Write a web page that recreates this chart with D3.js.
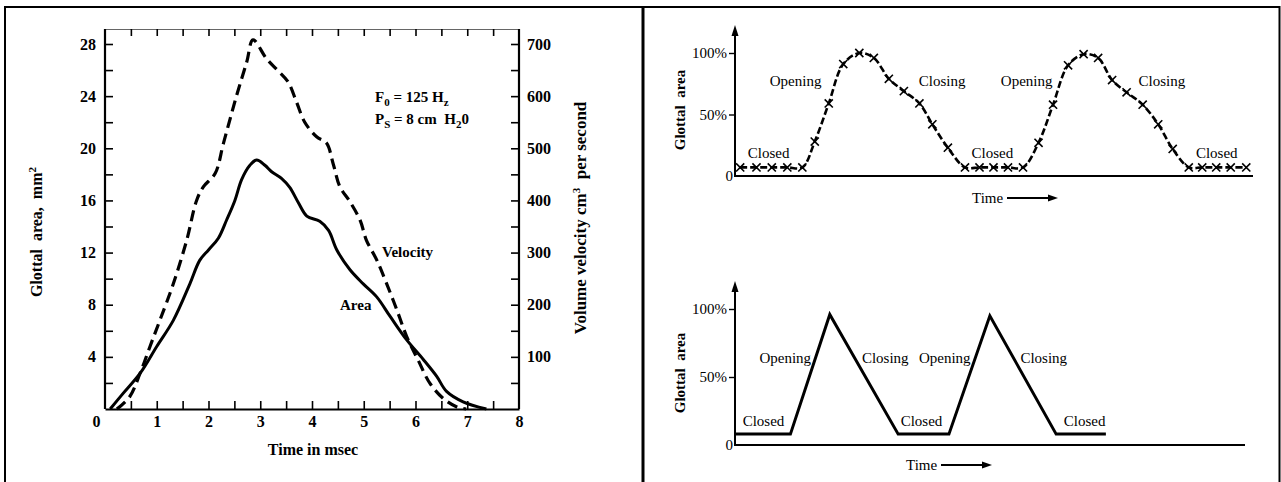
<!DOCTYPE html>
<html>
<head>
<meta charset="utf-8">
<script src="https://cdn.jsdelivr.net/npm/d3@7"></script>
<style>
  body { margin: 0; background: #fff; }
  svg { display: block; }
  text { font-family: "Liberation Serif", "DejaVu Serif", serif; fill: #000; }
</style>
</head>
<body>
<svg id="chart" width="1281" height="482"></svg>
<script>
// ---- Left panel: glottal area (mm²) and volume velocity (cm³/s) over one cycle ----
const areaTime = [0.10, 0.35, 0.68, 1.00, 1.32, 1.64, 1.83, 2.00, 2.19, 2.35, 2.51, 2.64, 2.80, 2.93,
  3.09, 3.22, 3.41, 3.57, 3.74, 3.90, 4.15, 4.32, 4.48, 4.73, 4.99, 5.25, 5.51, 5.83, 6.15, 6.41, 6.60, 6.92, 7.37];
const areaValues = [0, 1.2, 2.75, 4.8, 6.8, 9.6, 11.4, 12.2, 13.1, 14.5, 16.0, 17.6, 18.7, 19.1,
  18.7, 18.2, 17.7, 17.0, 15.8, 14.8, 14.4, 13.7, 12.2, 10.7, 9.6, 8.6, 7.1, 5.3, 3.8, 2.5, 1.35, 0.55, 0];

const velocityTime = [0.23, 0.48, 0.68, 0.87, 1.06, 1.32, 1.58, 1.77, 1.90, 2.13, 2.29, 2.54, 2.74, 2.86,
  3.12, 3.35, 3.54, 3.70, 3.86, 4.09, 4.28, 4.41, 4.54, 4.73, 4.93, 5.05, 5.25, 5.44, 5.64, 5.83, 6.05, 6.28, 6.54, 6.80, 6.98];
const velocityValues = [0, 24, 69, 120, 170, 240, 324, 400, 426, 452, 510, 600, 666, 708,
  672, 648, 627, 589, 550, 522, 510, 470, 426, 398, 362, 324, 286, 241, 190, 139, 94, 49, 20, 4, 0];

const timeTicks = d3.range(0, 8.01, 0.5);
const timeLabels = [0, 1, 2, 3, 4, 5, 6, 7, 8];
const areaTicks = d3.range(2, 28.01, 2);
const areaLabels = [4, 8, 12, 16, 20, 24, 28];
const velocityTicks = d3.range(50, 700.1, 50);
const velocityLabels = [100, 200, 300, 400, 500, 600, 700];

// ---- Right panels: schematic glottal cycles ----
const phaseTime = [0.10, 0.415, 0.71, 1.01, 1.30, 1.54, 1.81, 2.09, 2.40, 2.68, 2.97, 3.26, 3.56, 3.81, 4.11,
  4.44, 4.72, 4.99, 5.27, 5.56, 5.86, 6.14, 6.43, 6.73, 7.01, 7.28, 7.56, 7.87, 8.17, 8.45,
  8.76, 9.02, 9.29, 9.57, 9.87];
const phasePercent = [7, 7, 7, 7, 7, 28, 59, 91, 100, 96, 79, 69, 59, 42, 23,
  7, 7, 7, 7, 7, 27, 58, 90, 99, 96, 78, 68, 58, 42, 22,
  7, 7, 7, 7, 7];

const trapTime = [0, 1.07, 1.83, 3.15, 4.13, 4.92, 6.20, 7.16];
const trapPercent = [8, 8, 96, 8, 8, 95, 8, 8];

const percentTicks = [0, 50, 100];
const percentLabels = ["0", "50%", "100%"];

const topLabels = [
  { text: "Closed", t: 0.65, p: 19 }, { text: "Opening", t: 1.17, p: 77 },
  { text: "Closing", t: 4.0, p: 77 }, { text: "Opening", t: 5.63, p: 77 },
  { text: "Closing", t: 8.24, p: 77 }, { text: "Closed", t: 4.97, p: 19 },
  { text: "Closed", t: 9.3, p: 19 }
];
const bottomLabels = [
  { text: "Closed", t: 0.55, p: 18 }, { text: "Opening", t: 0.97, p: 64 },
  { text: "Closing", t: 2.9, p: 64 }, { text: "Opening", t: 4.05, p: 64 },
  { text: "Closing", t: 5.96, p: 64 }, { text: "Closed", t: 3.6, p: 18 },
  { text: "Closed", t: 6.75, p: 18 }
];

const svg = d3.select("#chart");

// Panel frame and divider
svg.append("rect").attr("x", 5).attr("y", 7).attr("width", 1274.5).attr("height", 478)
  .attr("fill", "none").attr("stroke", "#000").attr("stroke-width", 2);
svg.append("line").attr("x1", 643).attr("x2", 643).attr("y1", 7).attr("y2", 482)
  .attr("stroke", "#000").attr("stroke-width", 3);

// ================= Left panel =================
const x = d3.scaleLinear([0, 8], [105, 519]);
const yArea = d3.scaleLinear([0, 28], [409, 44]);
const yVel = d3.scaleLinear([0, 700], [409, 44]);
const L = svg.append("g");

function styleAxis(g, width) {
  g.select(".domain").attr("stroke", "#000").attr("stroke-width", width);
  g.selectAll(".tick line").attr("stroke", "#000").attr("stroke-width", 1.6);
  g.selectAll(".tick text").attr("font-family", "Liberation Serif, serif")
    .attr("font-size", 16).attr("font-weight", "bold").attr("fill", "#000");
}

// top edge (ticks only)
L.append("g").attr("transform", `translate(0,${yArea(28) - 15})`)
  .call(d3.axisTop(x).tickValues(timeTicks.slice(1, -1)).tickSizeInner(-7).tickSizeOuter(0).tickFormat(""))
  .call(g => styleAxis(g, 1.2))
  .call(g => g.select(".domain").attr("stroke", "#666"));

// bottom axis
const bottom = L.append("g").attr("transform", `translate(0,${yArea(0)})`)
  .call(d3.axisBottom(x).tickValues(timeTicks).tickSizeInner(-8).tickSizeOuter(0).tickPadding(7)
    .tickFormat(d => timeLabels.includes(d) ? d : ""))
  .call(g => styleAxis(g, 2.2));
bottom.selectAll(".tick").filter(d => d === 0).select("text").attr("dx", -9);
bottom.selectAll(".tick").filter(d => d === 0 || d === 8).select("line").remove();

// left axis
L.append("g").attr("transform", `translate(${x(0)},0)`)
  .call(d3.axisLeft(yArea).tickValues(areaTicks).tickSizeInner(-8).tickSizeOuter(0).tickPadding(9)
    .tickFormat(d => areaLabels.includes(d) ? d : ""))
  .call(g => styleAxis(g, 2.2))
  .call(g => g.select(".domain").attr("d", `M0,${yArea(0)}V${yArea(28) - 15}`));

// right axis
L.append("g").attr("transform", `translate(${x(8)},0)`)
  .call(d3.axisRight(yVel).tickValues(velocityTicks).tickSizeInner(-8).tickSizeOuter(0).tickPadding(8)
    .tickFormat(d => velocityLabels.includes(d) ? d : ""))
  .call(g => styleAxis(g, 2.2))
  .call(g => g.select(".domain").attr("d", `M0,${yArea(0)}V${yArea(28) - 15}`));

// curves
const areaLine = d3.line().x(d => x(d[0])).y(d => yArea(d[1])).curve(d3.curveCatmullRom.alpha(0.5));
const velLine = d3.line().x(d => x(d[0])).y(d => yVel(d[1])).curve(d3.curveCatmullRom.alpha(0.5));

L.append("path").datum(d3.zip(areaTime, areaValues)).attr("d", areaLine)
  .attr("fill", "none").attr("stroke", "#000").attr("stroke-width", 3);
L.append("path").datum(d3.zip(velocityTime, velocityValues)).attr("d", velLine)
  .attr("fill", "none").attr("stroke", "#000").attr("stroke-width", 3.2)
  .attr("stroke-dasharray", "11,6");

// curve labels
L.append("text").attr("x", 382).attr("y", 257).attr("font-size", 15).attr("font-weight", "bold").text("Velocity");
L.append("text").attr("x", 340).attr("y", 310).attr("font-size", 15).attr("font-weight", "bold").text("Area");

// parameters
const f0 = L.append("text").attr("x", 375).attr("y", 102).attr("font-size", 15).attr("font-weight", "bold");
f0.append("tspan").text("F");
f0.append("tspan").attr("font-size", 11).attr("dy", 4).text("0");
f0.append("tspan").attr("dy", -4).text(" = 125 H");
f0.append("tspan").attr("font-size", 11).attr("dy", 4).text("z");
const ps = L.append("text").attr("x", 375).attr("y", 124).attr("font-size", 15).attr("font-weight", "bold")
  .style("white-space", "pre");
ps.append("tspan").text("P");
ps.append("tspan").attr("font-size", 11).attr("dy", 4).text("S");
ps.append("tspan").attr("dy", -4).text(" = 8 cm  H");
ps.append("tspan").attr("font-size", 11).attr("dy", 4).text("2");
ps.append("tspan").attr("dy", -4).text("0");

// axis titles
L.append("text").attr("x", 313).attr("y", 455).attr("text-anchor", "middle")
  .attr("font-size", 16).attr("font-weight", "bold").text("Time in msec");
const yt = L.append("text").attr("transform", "translate(42,232) rotate(-90)").attr("text-anchor", "middle")
  .attr("font-size", 16).attr("font-weight", "bold").style("white-space", "pre");
yt.append("tspan").text("Glottal  area,  mm");
yt.append("tspan").attr("font-size", 11).attr("dy", -6).text("2");
const vt = L.append("text").attr("transform", "translate(586,218) rotate(-90)").attr("text-anchor", "middle")
  .attr("font-size", 17).attr("font-weight", "bold").style("white-space", "pre");
vt.append("tspan").text("Volume velocity cm");
vt.append("tspan").attr("font-size", 11).attr("dy", -6).text("3");
vt.append("tspan").attr("dy", 6).text("  per second");

// ================= Right panels =================
function cyclePanel(yBase, yTop, arrowTop, xEnd, labelY, timeY, timeX) {
  const xs = d3.scaleLinear([0, 10], [735, 1253]);
  const ys = d3.scaleLinear([0, 100], [yBase, yTop]);
  const g = svg.append("g");
  // x axis line
  g.append("line").attr("x1", 734).attr("x2", xEnd).attr("y1", yBase).attr("y2", yBase)
    .attr("stroke", "#000").attr("stroke-width", 2);
  // y axis with arrowhead
  g.append("line").attr("x1", 735).attr("x2", 735).attr("y1", yBase).attr("y2", arrowTop + 6)
    .attr("stroke", "#000").attr("stroke-width", 2);
  g.append("path").attr("d", `M735,${arrowTop}L731.5,${arrowTop + 11}L738.5,${arrowTop + 11}Z`).attr("fill", "#000");
  const ax = g.append("g").attr("transform", "translate(735,0)")
    .call(d3.axisLeft(ys).tickValues(percentTicks).tickSizeInner(6).tickSizeOuter(0).tickPadding(2)
      .tickFormat((d, i) => percentLabels[i]));
  ax.select(".domain").remove();
  ax.selectAll(".tick line").attr("stroke", "#000").attr("stroke-width", 1.4);
  ax.selectAll(".tick").filter(d => d === 0).select("line").remove();
  ax.selectAll(".tick").filter(d => d === 0).select("text").attr("dx", 6);
  ax.selectAll(".tick text").attr("font-family", "Liberation Serif, serif").attr("font-size", 15).attr("fill", "#000");
  // y title
  g.append("text").attr("transform", `translate(685,${labelY}) rotate(-90)`).attr("text-anchor", "middle")
    .attr("font-size", 15).attr("font-weight", "bold").style("white-space", "pre").text("Glottal  area");
  // time arrow
  g.append("text").attr("x", timeX).attr("y", timeY + 5).attr("font-size", 15).text("Time");
  g.append("line").attr("x1", timeX + 35).attr("x2", timeX + 80).attr("y1", timeY).attr("y2", timeY)
    .attr("stroke", "#000").attr("stroke-width", 2);
  g.append("path").attr("d", `M${timeX + 86},${timeY}L${timeX + 76},${timeY - 3.5}L${timeX + 76},${timeY + 3.5}Z`).attr("fill", "#000");
  return { g, xs, ys };
}

// upper: measured cycle with marked samples
const up = cyclePanel(176, 53, 25, 1253, 110, 198, 972);
const phasePts = d3.zip(phaseTime, phasePercent);
up.g.append("path").datum(phasePts)
  .attr("d", d3.line().x(d => up.xs(d[0])).y(d => up.ys(d[1])).curve(d3.curveCatmullRom.alpha(0.5)))
  .attr("fill", "none").attr("stroke", "#000").attr("stroke-width", 2.6).attr("stroke-dasharray", "7,3");
up.g.selectAll("path.mark").data(phasePts).join("path").attr("class", "mark")
  .attr("transform", d => `translate(${up.xs(d[0])},${up.ys(d[1])})`)
  .attr("d", d3.symbol(d3.symbolX, 45))
  .attr("fill", "none").attr("stroke", "#000").attr("stroke-width", 1.6);
up.g.selectAll("text.ph").data(topLabels).join("text").attr("class", "ph")
  .attr("x", d => up.xs(d.t)).attr("y", d => up.ys(d.p) + 5).attr("text-anchor", "middle")
  .attr("font-size", 15).text(d => d.text);

// lower: idealised trapezoidal cycle
const lo = cyclePanel(445, 309, 281, 1245, 373, 465, 906);
lo.g.append("path").datum(d3.zip(trapTime, trapPercent))
  .attr("d", d3.line().x(d => lo.xs(d[0])).y(d => lo.ys(d[1])))
  .attr("fill", "none").attr("stroke", "#000").attr("stroke-width", 3).attr("stroke-linejoin", "miter");
lo.g.selectAll("text.ph").data(bottomLabels).join("text").attr("class", "ph")
  .attr("x", d => lo.xs(d.t)).attr("y", d => lo.ys(d.p) + 5).attr("text-anchor", "middle")
  .attr("font-size", 15).text(d => d.text);
</script>
</body>
</html>
